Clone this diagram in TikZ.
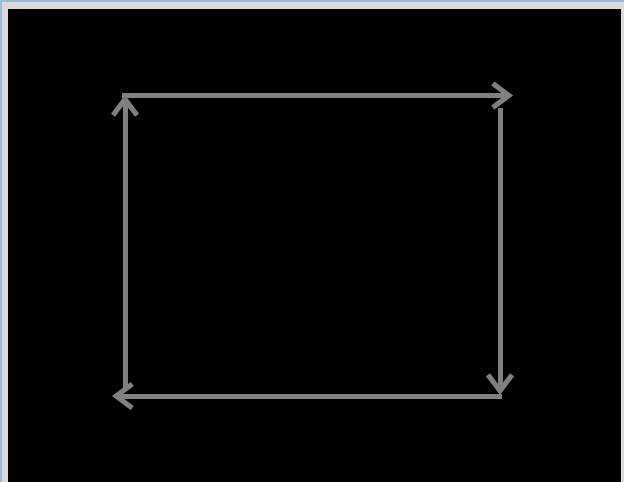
\documentclass[tikz,border=0pt]{standalone}
\usetikzlibrary{arrows.meta}
\definecolor{frame}{RGB}{218,218,218}
\definecolor{framebl}{RGB}{160,184,222}
\definecolor{arr}{RGB}{128,128,128}
\tikzset{
  flow/.style={draw=arr, line width=5pt, -{Straight Barb[length=16pt,width=24pt,line width=5pt]}}
}
\begin{document}
\begin{tikzpicture}[x=1pt,y=-1pt]
\useasboundingbox (0,0) rectangle (624,482);
\fill[frame] (0,0) rectangle (624,482);
\fill[framebl] (0,0) rectangle (624,2);
\fill[framebl] (0,0) rectangle (1.5,482);
\fill[black] (8,9) rectangle (621,482);
\coordinate (tlstart) at (122,95.5);
\coordinate (trend) at (513,95.5);
\coordinate (rstart) at (500,108);
\coordinate (rend) at (500,395);
\coordinate (br) at (502,396);
\coordinate (bend) at (112,396);
\coordinate (lend) at (125,95);
\coordinate (lstart) at (125,390);
\draw[flow] (tlstart) -- (trend);
\draw[flow] (rstart) -- (rend);
\draw[flow] (br) -- (bend);
\draw[flow] (lstart) -- (lend);
\end{tikzpicture}
\end{document}
